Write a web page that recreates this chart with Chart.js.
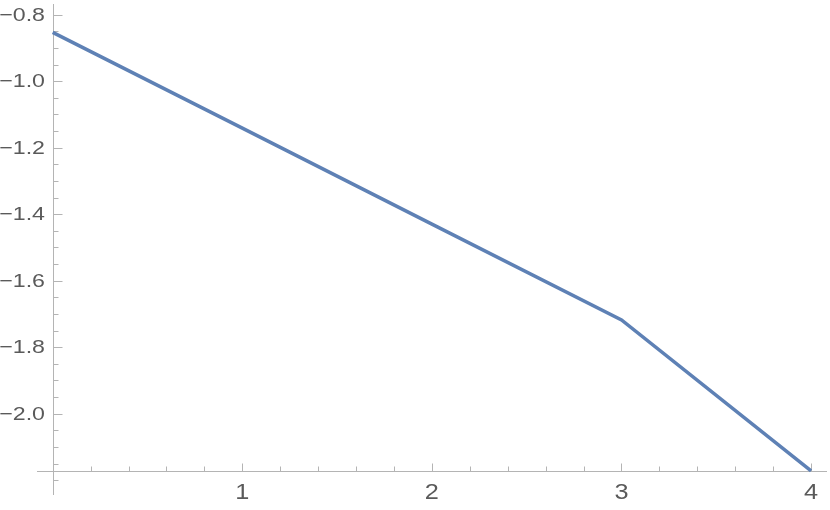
<!DOCTYPE html>
<html>
<head>
<meta charset="utf-8">
<script src="https://cdn.jsdelivr.net/npm/chart.js@4"></script>
<style>
  html, body { margin: 0; padding: 0; background: #fff; }
  #wrap { width: 830px; height: 510px; }
</style>
</head>
<body>
<div id="wrap"><canvas id="plot"></canvas></div>
<script>
// data
const xs = [0, 1, 2, 3, 4];
const ys = [-0.853, -1.141, -1.430, -1.718, -2.172];

const yTicks = [-0.8, -1.0, -1.2, -1.4, -1.6, -1.8, -2.0];
const yTickLabels = ["\u22120.8", "\u22121.0", "\u22121.2", "\u22121.4", "\u22121.6", "\u22121.8", "\u22122.0"];
const yMinor = [-0.85, -0.9, -0.95, -1.05, -1.1, -1.15, -1.25, -1.3, -1.35, -1.45, -1.5, -1.55,
                -1.65, -1.7, -1.75, -1.85, -1.9, -1.95, -2.05, -2.1, -2.15, -2.2];
const xTicks = [1, 2, 3, 4];
const xTickLabels = ["1", "2", "3", "4"];
const xMinor = [0.2, 0.4, 0.6, 0.8, 1.2, 1.4, 1.6, 1.8, 2.2, 2.4, 2.6, 2.8, 3.2, 3.4, 3.6, 3.8];

const AXIS = "#b4b4b4";
const LABEL = "#5a5a5a";
const xCross = Math.min(...ys); // x axis sits at the lowest value

// Mathematica-style axes drawn from the chart's own scales
const axesPlugin = {
  id: "mmaAxes",
  beforeDatasetsDraw(c) {
    const sx = c.scales.x, sy = c.scales.y, ctx = c.ctx;
    const x0 = Math.round(sx.getPixelForValue(0)) + 0.5;
    const yA = Math.round(sy.getPixelForValue(xCross)) + 0.5;
    ctx.save();
    ctx.strokeStyle = AXIS;
    ctx.lineWidth = 1;
    ctx.beginPath();
    ctx.moveTo(x0, 4); ctx.lineTo(x0, 495);
    ctx.moveTo(37, yA); ctx.lineTo(827, yA);
    yTicks.forEach(v => {
      const p = Math.round(sy.getPixelForValue(v)) + 0.5;
      ctx.moveTo(x0, p); ctx.lineTo(x0 + 9, p);
    });
    yMinor.forEach(v => {
      const p = Math.round(sy.getPixelForValue(v)) + 0.5;
      ctx.moveTo(x0, p); ctx.lineTo(x0 + 5, p);
    });
    xTicks.forEach(v => {
      const p = Math.round(sx.getPixelForValue(v)) + 0.5;
      ctx.moveTo(p, yA); ctx.lineTo(p, yA - 8);
    });
    xMinor.forEach(v => {
      const p = Math.round(sx.getPixelForValue(v)) + 0.5;
      ctx.moveTo(p, yA); ctx.lineTo(p, yA - 5);
    });
    ctx.stroke();

    ctx.fillStyle = LABEL;
    ctx.font = "19px 'Liberation Sans', Arial, sans-serif";
    ctx.textAlign = "right";
    ctx.textBaseline = "middle";
    yTicks.forEach((v, i) => {
      const p = sy.getPixelForValue(v);
      ctx.save();
      ctx.translate(45, p + 1);
      ctx.scale(1.22, 1);
      ctx.fillText(yTickLabels[i], 0, 0);
      ctx.restore();
    });
    ctx.font = "22px 'Liberation Sans', Arial, sans-serif";
    ctx.textAlign = "center";
    xTicks.forEach((v, i) => {
      const p = sx.getPixelForValue(v);
      ctx.save();
      ctx.translate(p, yA + 21);
      ctx.scale(1.15, 1);
      ctx.fillText(xTickLabels[i], 0, 0);
      ctx.restore();
    });
    ctx.restore();
  }
};

new Chart(document.getElementById("plot"), {
  type: "line",
  data: {
    datasets: [{
      data: xs.map((x, i) => ({ x, y: ys[i] })),
      borderColor: "#5e81b5",
      borderWidth: 3.5,
      pointRadius: 0,
      tension: 0,
      fill: false,
    }],
  },
  options: {
    responsive: true,
    maintainAspectRatio: false,
    animation: false,
    layout: { padding: 0 },
    scales: {
      x: { type: "linear", min: -0.278, max: 4.0997, display: false },
      y: { type: "linear", min: -2.2896, max: -0.7558, display: false },
    },
    plugins: { legend: { display: false }, tooltip: { enabled: false } },
  },
  plugins: [axesPlugin],
});
</script>
</body>
</html>
